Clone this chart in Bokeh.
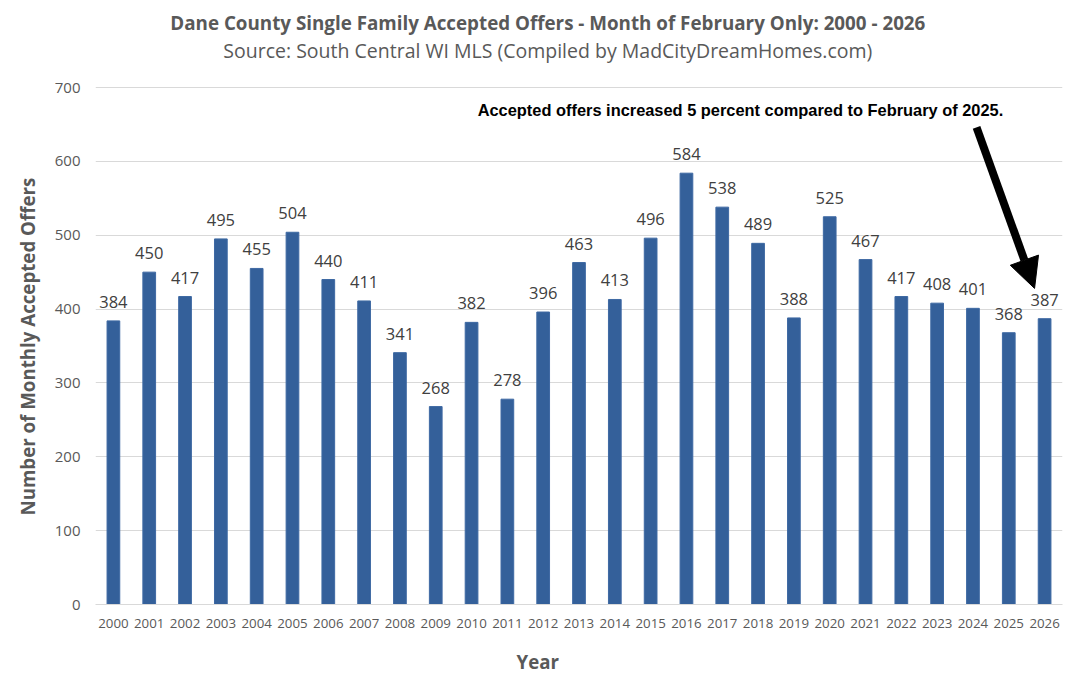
from bokeh.plotting import figure
from bokeh.models import ColumnDataSource, Label, Arrow, NormalHead, FixedTicker, Range1d, FactorRange, Title
from bokeh.core.properties import value
from bokeh.embed import file_html
from bokeh.resources import INLINE

years = [str(y) for y in range(2000, 2027)]
offers = [384, 450, 417, 495, 455, 504, 440, 411, 341, 268, 382, 278, 396, 463, 413,
          496, 584, 538, 489, 388, 525, 467, 417, 408, 401, 368, 387]
y_ticks = [0, 100, 200, 300, 400, 500, 600, 700]

title_text = "Dane County Single Family Accepted Offers - Month of February Only: 2000 - 2026"
subtitle_text = "Source: South Central WI MLS (Compiled by MadCityDreamHomes.com)"
note_text = "Accepted offers increased 5 percent compared to February of 2025."
y_title = "Number of Monthly Accepted Offers"
x_title = "Year"

src = ColumnDataSource(dict(year=years, offers=offers, lbl=[str(v) for v in offers]))

p = figure(width=1087, height=690, output_backend="svg", toolbar_location=None,
           x_range=FactorRange(factors=years, range_padding=0),
           y_range=Range1d(0, 817.8),
           min_border_left=95, min_border_right=25, min_border_top=0, min_border_bottom=86)
p.outline_line_color = None
p.background_fill_color = "white"

FONT = "Open Sans"

p.vbar(x="year", top="offers", width=0.355, source=src, fill_color="#34609A", line_color="#3E69A3", line_width=1)
p.text(x="year", y="offers", text="lbl", source=src, text_align="center", text_baseline="alphabetic",
       y_offset=-19, text_font=value(FONT), text_font_size="16.5px", text_color="#404040")

p.yaxis.ticker = FixedTicker(ticks=y_ticks)
p.ygrid.ticker = FixedTicker(ticks=y_ticks)
p.xgrid.grid_line_color = None
p.ygrid.grid_line_color = "#D9D9D9"
p.ygrid.grid_line_width = 1

for ax in [p.xaxis[0], p.yaxis[0]]:
    ax.major_tick_line_color = None
    ax.minor_tick_line_color = None
    ax.major_tick_in = 0
    ax.major_tick_out = 0
    ax.minor_tick_in = 0
    ax.minor_tick_out = 0
    ax.major_label_text_font = FONT
    ax.major_label_text_color = "#595959"

p.yaxis.axis_line_color = None
p.yaxis.major_label_text_font_size = "15px"
p.yaxis.major_label_standoff = 15

p.xaxis.axis_line_color = "#D9D9D9"
p.xaxis.major_label_text_font_size = "13.3px"
p.xaxis.major_label_standoff = 14

p.add_layout(Title(text=y_title, align="left", offset=89, standoff=24,
                   text_font=FONT, text_font_style="bold", text_font_size="18.7px", text_color="#595959"), "left")
p.add_layout(Title(text=x_title, align="left", offset=421, standoff=33,
                   text_font=FONT, text_font_style="bold", text_font_size="18.7px", text_color="#595959"), "below")

p.add_layout(Label(x=12.63, y=787, text=title_text, text_align="center", text_baseline="middle",
                   text_font=FONT, text_font_style="bold", text_font_size="18.8px", text_color="#595959"))
p.add_layout(Label(x=12.63, y=750, text=subtitle_text, text_align="center", text_baseline="middle",
                   text_font=FONT, text_font_size="19.5px", text_color="#595959"))
p.add_layout(Label(x=10.67, y=669, text=note_text, text_align="left", text_baseline="middle",
                   text_font="Liberation Sans", text_font_style="bold", text_font_size="16.4px", text_color="black"))
p.add_layout(Arrow(x_start=24.60, y_start=646, x_end=26.22, y_end=428, line_width=8, line_color="black",
                   end=NormalHead(size=30, fill_color="black", line_color="black")))

open("out.html", "w").write(file_html(p, INLINE))
